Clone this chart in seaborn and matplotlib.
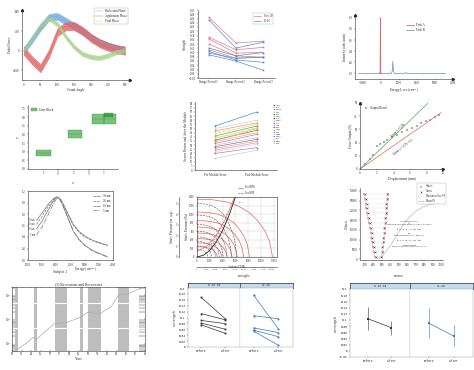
import numpy as np
import pandas as pd
import seaborn as sns
import matplotlib.pyplot as plt

W, H = 474, 370

sns.set_theme(style="ticks")
plt.rcParams['font.family'] = ['Liberation Serif', 'DejaVu Sans']
plt.rcParams.update({
    'font.size': 2.4, 'axes.linewidth': 0.4,
    'xtick.major.width': 0.3, 'ytick.major.width': 0.3,
    'xtick.minor.width': 0.3, 'ytick.minor.width': 0.3,
    'xtick.major.size': 1.0, 'ytick.major.size': 1.0,
    'xtick.major.pad': 0.8, 'ytick.major.pad': 0.8,
    'xtick.labelsize': 2.2, 'ytick.labelsize': 2.2,
    'axes.labelsize': 2.5, 'axes.titlesize': 3, 'legend.fontsize': 2.2,
    'axes.labelpad': 1.0, 'axes.edgecolor': '#333333',
})

# ---------------- data ----------------
# panel 1: pedal force bands
crank = [0, 25, 50, 75, 100, 125, 150, 175, 200, 225, 250, 275, 300]
refl_force = [0, 230, 480, 680, 700, 600, 500, 400, 260, 170, 100, 45, 10]
appl_force = [0, -200, -360, -60, 380, 500, 500, 400, 260, 150, 80, 30, 0]
total_force = [0, 260, 520, 660, 540, 280, 70, -70, -130, -150, -100, -30, 10]
band_sd = [70, 85, 45]

# panel 2: strength over range periods
periods = ['Range Period 1', 'Range Period 2', 'Range Period 3']
grp_8_10 = [[0.265, 0.145, 0.153], [0.172, 0.113, 0.124], [0.164, 0.097, 0.100],
            [0.140, 0.084, 0.078], [0.113, 0.073, 0.078]]
grp_11_16 = [[0.254, 0.121, 0.148], [0.121, 0.084, 0.100], [0.105, 0.065, 0.054],
             [0.089, 0.060, 0.017], [0.097, 0.073, 0.078]]

# panel 3: spectrum
peak_a_x = [-60, -15, 0, 15, 60]
peak_a_y = [0, 0.02, 1.0, 0.02, 0]
peak_b_x = [-1200, 600, 660, 685, 710, 770, 1350, 1420, 1490, 3600]
peak_b_y = [0, 0, 0.05, 0.22, 0.05, 0, 0, 0.015, 0, 0]

# panel 4: error blocks
blk_x = [1.0, 2.05, 2.8, 3.19, 3.15]
blk_y = [0.92, 2.03, 2.9, 2.9, 3.12]
blk_xe = [0.25, 0.24, 0.2, 0.19, 0.15]
blk_ye = [0.19, 0.24, 0.27, 0.27, 0.13]

# panel 5: scores before / after
students = ['Amy', 'Ben', 'Chloe', 'Dan', 'Ella', 'Finn', 'Grace', 'Hugo', 'Isla',
            'Jack', 'Kate', 'Liam', 'Mia', 'Noah', 'Olive', 'Paul', 'Ruby', 'Sam']
pre_score = [53, 50, 47, 44, 41, 38, 36, 34, 32, 30, 28, 26, 24, 22, 20, 14, 35, 40]
post_score = [70, 60, 57, 55, 53, 51, 48, 45, 43, 39, 37, 35, 33, 31, 27, 24, 50, 45]

# panel 6: force vs displacement
disp = [0.6, 1.2, 1.6, 2.0, 2.4, 2.9, 3.3, 3.9, 4.5, 5.1, 5.7, 6.3, 6.9, 7.4, 7.9, 8.4, 9.0, 9.5]
force = [3.5, 7.3, 10.5, 17.2, 19.0, 20.2, 22.2, 24.0, 26.0, 27.8, 29.3, 31.1, 32.8, 34.8, 36.0, 37.4, 39.4, 41.2]
fit_green = [0, 8.2]
fit_green_y = [0, 50]
fit_red = [0, 9.8]
fit_red_y = [0, 42.8]

# panel 7: energy curves
energy = [1300, 1500, 1700, 1900, 2000, 2100, 2200, 2400, 2600, 2800, 3000, 3300, 3600, 3800]
curve_30 = [0.69, 0.82, 0.96, 1.07, 1.10, 1.09, 1.02, 0.82, 0.62, 0.50, 0.42, 0.34, 0.29, 0.26]
curve_20 = [0.62, 0.76, 0.92, 1.05, 1.09, 1.08, 1.01, 0.80, 0.60, 0.48, 0.40, 0.33, 0.28, 0.25]
curve_10 = [0.54, 0.68, 0.86, 1.03, 1.08, 1.07, 0.98, 0.74, 0.50, 0.36, 0.26, 0.16, 0.10, 0.06]
curve_5 = [0.44, 0.58, 0.78, 0.98, 1.06, 1.07, 0.99, 0.75, 0.50, 0.35, 0.25, 0.15, 0.09, 0.05]
curve_names = ['30 nm', '20 nm', '10 nm', '5 nm']

# panel 8: fan curves
fan_pmax = [1350, 1050, 850, 700, 560, 430, 330, 240]
fan_qmax = [11800, 8200, 7300, 6300, 5500, 4700, 3900, 3200]
fan_rpm = ['1400', '1200', '1100', '1000', '900', '800', '700', '600']
dash_pmax = [1250, 980, 760, 600, 470, 360, 260, 170]
dash_qmax = [6200, 5400, 4700, 4100, 3500, 2900, 2300, 1700]
shape_frac = [0, 0.2, 0.4, 0.55, 0.7, 0.8, 0.9, 0.96, 1.0]
shape_p = [1.0, 0.99, 0.95, 0.88, 0.76, 0.63, 0.45, 0.27, 0.0]
sys_q = [0, 1000, 2000, 3000, 4000, 5000, 6000]
sys_p = [0, 40, 155, 350, 620, 970, 1400]
eff_q = [0, 1500, 3000, 4500, 5800]
eff_p = [130, 250, 500, 900, 1380]

# panel 9: offsets
lvl = [1000, 3500, 6000, 8500, 11000, 13500, 16000, 18500, 21000, 23500, 26000, 28500, 31000, 33500]
left_x = [215, 205, 195, 185, 175, 165, 155, 145, 135, 125, 115, 105, 95, 85]
right_x = [298, 306, 313, 320, 327, 333, 339, 345, 350, 355, 360, 364, 368, 372]
ps_x = [255, 320, 400, 490, 580, 680, 780, 880, 980]
ps_y = [0, 2500, 7000, 13500, 19500, 24000, 26800, 28200, 28800]

# panel 10: recessions
years = [1952, 1958, 1961, 1963, 1965, 1972, 1979, 1986, 1990, 1996, 2002, 2006, 2011, 2019]
index_val = [53, 111, 179, 152, 210, 640, 750, 1210, 1950, 1660, 3150, 9600, 11270, 20000]
rec_start = [1951.8, 1961.7, 1972.4, 1985.9, 1989.9, 2006.0]
rec_end = [1953.2, 1963.1, 1978.9, 1987.3, 1996.9, 2011.6]

# panels 11 / 12: strength before / after
times = ['Before', 'After']
young_before = [0.168, 0.113, 0.090, 0.081, 0.075]
young_after = [0.095, 0.092, 0.079, 0.060, 0.046]
old_before = [0.176, 0.106, 0.065, 0.057, 0.054]
old_after = [0.062, 0.096, 0.049, 0.035, 0.006]
mean_young = [0.104, 0.075]
err_young = [0.038, 0.023]
mean_old = [0.090, 0.048]
err_old = [0.050, 0.034]

fig = plt.figure(figsize=(W / 100, H / 100), dpi=100)


def box(l, t, r, b):
    return fig.add_axes([l / W, 1 - b / H, (r - l) / W, (b - t) / H])


def arrows(ax):
    ax.plot(1, 0, '>', color='#222222', ms=1.6, transform=ax.transAxes, clip_on=False)
    ax.plot(0, 1, '^', color='#222222', ms=1.6, transform=ax.transAxes, clip_on=False)


def small_legend(ax, **kw):
    leg = ax.legend(handlelength=2.5, borderpad=0.4, labelspacing=0.3, **kw)
    leg.get_frame().set_linewidth(0.3)
    leg.get_frame().set_edgecolor('#999999')
    return leg


# ---------------- panel 1 ----------------
ax = box(22, 10, 130, 80)
cols = ['#6fa8dc', '#e06666', '#a9d18e']
names = ['Reflection Phase', 'Application Phase', 'Total Phase']
for yv, sd, c, lab in zip([refl_force, appl_force, total_force], band_sd, cols, names):
    yv = np.array(yv, dtype=float)
    ax.fill_between(crank, yv - sd, yv + sd, color=c, alpha=0.8, lw=0.3, edgecolor=c)
    sns.lineplot(x=crank, y=yv, ax=ax, color=c, lw=0.3, label=lab)
ax.set_xlim(-5, 315)
ax.set_ylim(-600, 830)
ax.set_xticks(range(0, 301, 50))
ax.set_yticks([-400, 0, 400, 800])
ax.set_xlabel('Crank Angle')
ax.set_ylabel('Pedal Force')
sns.despine(ax=ax)
arrows(ax)
small_legend(ax, loc='upper right', bbox_to_anchor=(1.0, 1.05))

# ---------------- panel 2 ----------------
ax = box(198, 10, 275, 78)
for vals in grp_8_10:
    sns.lineplot(x=[0, 1, 2], y=vals, ax=ax, color='#e07b86', lw=0.5, marker='s', ms=1.2, mew=0)
for vals in grp_11_16:
    sns.lineplot(x=[0, 1, 2], y=vals, ax=ax, color='#5b8ec9', lw=0.5, marker='s', ms=1.2, mew=0)
ax.plot([], [], color='#e07b86', lw=0.5, label='8 to 10')
ax.plot([], [], color='#5b8ec9', lw=0.5, label='11-16')
ax.set_xlim(-0.4, 2.45)
ax.set_ylim(-0.02, 0.30)
ax.set_yticks(np.round(np.arange(-0.02, 0.301, 0.02), 2))
ax.set_xticks([0, 1, 2])
ax.set_xticklabels(periods)
ax.set_ylabel('Strength')
sns.despine(ax=ax)
small_legend(ax, loc='upper right', bbox_to_anchor=(1.0, 0.98))

# ---------------- panel 3 ----------------
ax = box(355, 15, 453, 79)
sns.lineplot(x=peak_b_x, y=peak_b_y, ax=ax, color='#5b8ec9', lw=0.5, label='Peak B', sort=False)
sns.lineplot(x=peak_a_x, y=peak_a_y, ax=ax, color='#e06666', lw=0.6, label='Peak A', sort=False)
ax.set_ylim(-0.1, 1.05)
ax.set_xticks([-1000, 0, 1000, 2000, 3000, 4000])
ax.set_xlim(-1400, 4000)
ax.set_yticks([0, 0.2, 0.4, 0.6, 0.8, 1.0])
ax.set_xlabel('Energy Loss (cm$^{-1}$)')
ax.set_ylabel('Intensity (arb. units)')
sns.despine(ax=ax)
arrows(ax)
h, l = ax.get_legend_handles_labels()
leg = ax.legend(h[::-1], l[::-1], loc='upper center', bbox_to_anchor=(0.62, 0.92),
                handlelength=2.5, borderpad=0.4, frameon=False)

# ---------------- panel 4 ----------------
ax = box(28, 105, 118, 169)
for i, (x, y, xe, ye) in enumerate(zip(blk_x, blk_y, blk_xe, blk_ye)):
    fc = '#2e9e3f' if i == 4 else '#4caf50'
    ax.add_patch(plt.Rectangle((x - xe, y - ye), 2 * xe, 2 * ye, facecolor=fc,
                               alpha=0.75, edgecolor='#2e7d32', lw=0.3,
                               label='Error Block' if i == 0 else None))
    ax.plot([x - xe, x + xe], [y, y], color='#2e7d32', lw=0.3, alpha=0.6)
ax.set_xlim(0.5, 3.46)
ax.set_ylim(0, 3.7)
ax.set_xticks([1, 2, 3])
ax.set_xticks([1.5, 2.5], minor=True)
ax.set_yticks(np.arange(0, 3.6, 0.5))
ax.set_xlabel('x')
ax.set_ylabel('y')
sns.despine(ax=ax)
leg = ax.legend(loc='upper left', frameon=False, handlelength=2, handleheight=1.0)

# ---------------- panel 5 ----------------
ax = box(195, 102, 277, 170)
df5 = pd.DataFrame({
    'student': students * 2,
    'phase': [0] * len(students) + [1] * len(students),
    'score': pre_score + post_score,
})
pal = sns.color_palette('tab20', len(students))
sns.lineplot(data=df5, x='phase', y='score', hue='student', palette=pal, ax=ax,
             marker='o', ms=1.2, mew=0, lw=0.4)
ax.set_xlim(-0.48, 1.48)
ax.set_ylim(0, 82)
ax.set_yticks(range(0, 81, 5))
ax.set_xticks([0, 1])
ax.set_xticklabels(['Pre-Module Score', 'Post-Module Score'])
ax.set_xlabel('')
ax.set_ylabel('Scores Before and After the Module')
sns.despine(ax=ax)
ax.legend(loc='upper left', bbox_to_anchor=(0.92, 1.0), frameon=False, fontsize=1.7,
          handlelength=0.8, labelspacing=0.25, markerscale=0.8)

# ---------------- panel 6 ----------------
ax = box(360, 103, 443, 169)
sns.lineplot(x=fit_green, y=fit_green_y, ax=ax, color='#4caf50', lw=0.5)
sns.lineplot(x=fit_red, y=fit_red_y, ax=ax, color='#e06666', lw=0.5)
sns.scatterplot(x=disp, y=force, ax=ax, marker='+', s=2, color='#333333',
                linewidth=0.3, label='Output Result')
ax.text(4.6, 29.5, 'Linear: y = 6.10x', rotation=44, fontsize=1.9, ha='center', va='center')
ax.text(5.2, 16.5, 'Linear: y = 4.37x - 0.2', rotation=38, fontsize=1.9, ha='center', va='center')
ax.set_xlim(0, 10)
ax.set_ylim(0, 50)
ax.set_xticks(range(0, 11, 2))
ax.set_yticks(range(0, 51, 10))
ax.set_xlabel('Displacement (mm)')
ax.set_ylabel('Force Output (N)')
sns.despine(ax=ax)
arrows(ax)
ax.legend(loc='upper left', frameon=False, handletextpad=0.3)

# ---------------- panel 7 ----------------
ax = box(28, 191, 113, 260)
styles = ['-', '--', '-', '-.']
for vals, name, ls in zip([curve_30, curve_20, curve_10, curve_5], curve_names, styles):
    sns.lineplot(x=energy, y=vals, ax=ax, color='#777777', lw=0.5, ls=ls, label=name,
                 marker='.', ms=1, mew=0)
    ax.text(energy[0] - 60, vals[0], name, fontsize=1.8, ha='right', va='center')
ax.set_xlim(1000, 4000)
ax.set_ylim(0, 1.2)
ax.set_xticks(range(1000, 4001, 500))
ax.set_yticks(np.round(np.arange(0, 1.21, 0.2), 1))
ax.set_xlabel('Energy (cm$^{-1}$)', labelpad=0.5)
ax.xaxis.set_label_coords(0.68, -0.08)
for s in ax.spines.values():
    s.set_linewidth(0.4)
small_legend(ax, loc='upper right', frameon=False)

# ---------------- panel 8 ----------------
ax = box(197, 197, 277, 257)
ax.grid(color='#cccccc', lw=0.3)
for pm, qm, rpm in zip(fan_pmax, fan_qmax, fan_rpm):
    q = np.array(shape_frac) * qm
    p = np.array(shape_p) * pm
    ax.plot(q, p, color='#e06666', lw=0.5)
    ax.text(qm * 0.55, pm * 0.93, rpm, fontsize=1.5, color='#555555')
for pm, qm in zip(dash_pmax, dash_qmax):
    ax.plot(np.array(shape_frac) * qm, np.array(shape_p) * pm, color='#555555', lw=0.4, ls='--')
sns.lineplot(x=sys_q, y=sys_p, ax=ax, color='#222222', lw=0.6)
sns.lineplot(x=eff_q, y=eff_p, ax=ax, color='#e06666', lw=0.5)
ax.set_xlim(0, 12500)
ax.set_ylim(0, 1400)
ax.set_xticks(range(0, 12001, 2000))
ax.set_yticks(range(0, 1401, 200))
ax.tick_params(labelsize=1.9)
ax.set_xlabel('Airflow (CFM)', labelpad=0.3, fontsize=2.0)
ax.set_ylabel('Static Pressure (Pa)')
sec = ax.secondary_yaxis(-0.22, functions=(lambda v: v / 249.0, lambda v: v * 249.0))
sec.set_ylabel('Static Pressure (in. wg)')
sec.tick_params(labelsize=1.9, width=0.3, length=1)
secx = ax.secondary_xaxis(-0.17, functions=(lambda v: v * 1.699, lambda v: v / 1.699))
secx.tick_params(labelsize=1.7, width=0.3, length=0.8, pad=0.4)
ax.plot([], [], color='#e06666', lw=0.5, label='Fan RPM')
ax.plot([], [], color='#555555', lw=0.4, ls='--', label='Fan BHP')
ax.legend(loc='lower center', bbox_to_anchor=(0.62, 1.0), frameon=False, fontsize=1.8,
          handlelength=2)

# ---------------- panel 9 ----------------
ax = box(360, 188, 443, 260)
ax.hlines(lvl, [x - 8 for x in left_x], [x + 8 for x in right_x], color='#aaaaaa', lw=0.3, ls=':')
sns.lineplot(x=left_x, y=lvl, ax=ax, color='#e88a8a', lw=0.4, ls='--', sort=False)
sns.lineplot(x=right_x, y=lvl, ax=ax, color='#e88a8a', lw=0.4, ls='--', sort=False)
sns.scatterplot(x=left_x + right_x, y=lvl + lvl, ax=ax, marker='+', s=3, color='#d04040',
                linewidth=0.3, label='Offsets')
sns.scatterplot(x=[x + 12 for x in left_x] + [x - 12 for x in right_x], y=lvl + lvl, ax=ax,
                marker='x', s=2, color='#444444', linewidth=0.3, label='Others')
ax.plot([], [], color='#aaaaaa', lw=0.4, ls=':', label='Maximum Osc. PS')
sns.lineplot(x=ps_x, y=ps_y, ax=ax, color='#bbbbbb', lw=0.5, label='Mean PS')
ax.text(620, 13000,
        'ISO Standard Curve\nfor\nMaximum Oscillation Response (Pass 1, Rating 2)\n'
        'f$_0$ = 0.42 Hz, A$_0$ = 380 ft-lbs\nand\nMean Response (Pass 2, Rating 2)\n'
        'f$_0$ = 0.51 Hz, A$_0$ = 420 ft-lbs\nStandard Rating:\nFor Ring "Typical Vibration Response"',
        fontsize=1.5, ha='center', va='center', linespacing=1.3)
ax.set_xlim(40, 1020)
ax.set_ylim(-500, 36500)
ax.set_xticks(range(100, 1001, 100))
ax.set_yticks(range(0, 35001, 5000))
ax.set_ylabel('Offsets')
sns.despine(ax=ax)
small_legend(ax, loc='upper right', bbox_to_anchor=(1.05, 1.08), fontsize=1.8)

# ---------------- panel 10 ----------------
ax = box(12, 287, 145, 351)
for s0, s1 in zip(rec_start, rec_end):
    ax.axvspan(s0, s1, color='#bdbdbd', lw=0, zorder=1)
for gy in [437, 4770]:
    ax.axhline(gy, color='white', lw=0.8, zorder=2)
sns.lineplot(x=years, y=index_val, ax=ax, color='#aaaaaa', lw=0.5, zorder=3)
ax.set_yscale('log')
ax.set_xlim(1950, 2020)
ax.set_ylim(50, 21000)
ax.set_xticks(range(1950, 2021, 5))
ax.set_xticklabels([str(y)[2:] for y in range(1950, 2021, 5)])
ax.tick_params(which='both', direction='in', top=True, right=True)
ax.set_xlabel('Years')
ax.set_title('(3) Recessions and Recoveries', pad=1.5, fontsize=2.8)
fig.text(60 / W, 1 - 272 / H, 'Subplot 1', fontsize=2.6, ha='center', va='center')

# ---------------- panels 11 & 12 ----------------
mono = ['Liberation Mono', 'DejaVu Sans Mono']


def facet(l, r, t, strip_b, b, label):
    st = box(l, t, r, strip_b)
    st.set_facecolor('#c5d9f1')
    st.set_xticks([])
    st.set_yticks([])
    for s in st.spines.values():
        s.set_linewidth(0.5)
        s.set_color('#333333')
    st.text(0.5, 0.5, label, ha='center', va='center', fontsize=2.2, family=mono)
    a = box(l, strip_b, r, b)
    for s in a.spines.values():
        s.set_linewidth(0.3)
        s.set_color('#999999')
    return a


df11 = pd.DataFrame({
    'subj': list(range(5)) * 2,
    'time': [0] * 5 + [1] * 5,
    'val': young_before + young_after,
})
df11b = pd.DataFrame({
    'subj': list(range(5)) * 2,
    'time': [0] * 5 + [1] * 5,
    'val': old_before + old_after,
})
a1 = facet(188, 240, 283, 288, 347, '8 to 10')
a2 = facet(240, 293, 283, 288, 347, '11-16')
sns.lineplot(data=df11, x='time', y='val', units='subj', estimator=None, ax=a1,
             color='#333333', lw=0.5, marker='s', ms=1.3, mew=0)
sns.lineplot(data=df11b, x='time', y='val', units='subj', estimator=None, ax=a2,
             color='#3a78c2', lw=0.5, marker='s', ms=1.3, mew=0)
for a in (a1, a2):
    a.set_xlim(-0.55, 1.6)
    a.set_ylim(0, 0.2)
    a.set_xticks([0, 1])
    a.set_xticklabels(times, family=mono)
    a.set_xlabel('')
    a.set_yticks(np.round(np.arange(0, 0.201, 0.02), 2))
a1.set_yticklabels([f'{v:g}' for v in np.round(np.arange(0, 0.201, 0.02), 2)], family=mono)
a1.set_ylabel('Strength', family=mono)
a2.set_ylabel('')
a2.tick_params(axis='y', left=False, labelleft=False)
a2.spines['left'].set_color('#dddddd')
fig.text(244 / W, 1 - 276 / H, 'Weight', fontsize=2.3, ha='center', va='center', family=mono)

b1 = facet(350, 410, 283, 289, 357, '8 to 10')
b2 = facet(410, 473, 283, 289, 357, '11-16')
b1.errorbar([0, 1], mean_young, yerr=err_young, color='#333333', lw=0.5, marker='s', ms=1.6,
            capsize=1, elinewidth=0.4, capthick=0.4, mew=0)
b2.errorbar([0, 1], mean_old, yerr=err_old, color='#3a78c2', lw=0.5, marker='s', ms=1.6,
            capsize=1, elinewidth=0.4, capthick=0.4, mew=0)
for b in (b1, b2):
    b.set_xlim(-0.74, 1.78)
    b.set_ylim(-0.02, 0.2)
    b.set_xticks([0, 1])
    b.set_xticklabels(times, family=mono)
    b.set_yticks(np.round(np.arange(-0.02, 0.201, 0.02), 2))
b1.set_yticklabels([f'{v:g}' for v in np.round(np.arange(-0.02, 0.201, 0.02), 2)], family=mono)
b1.set_ylabel('Strength', family=mono)
b2.tick_params(axis='y', left=False, labelleft=False)
b2.spines['left'].set_color('#dddddd')
fig.text(399 / W, 1 - 276 / H, 'Means', fontsize=2.3, ha='center', va='center', family=mono)

fig.savefig('out.png', dpi=100)
